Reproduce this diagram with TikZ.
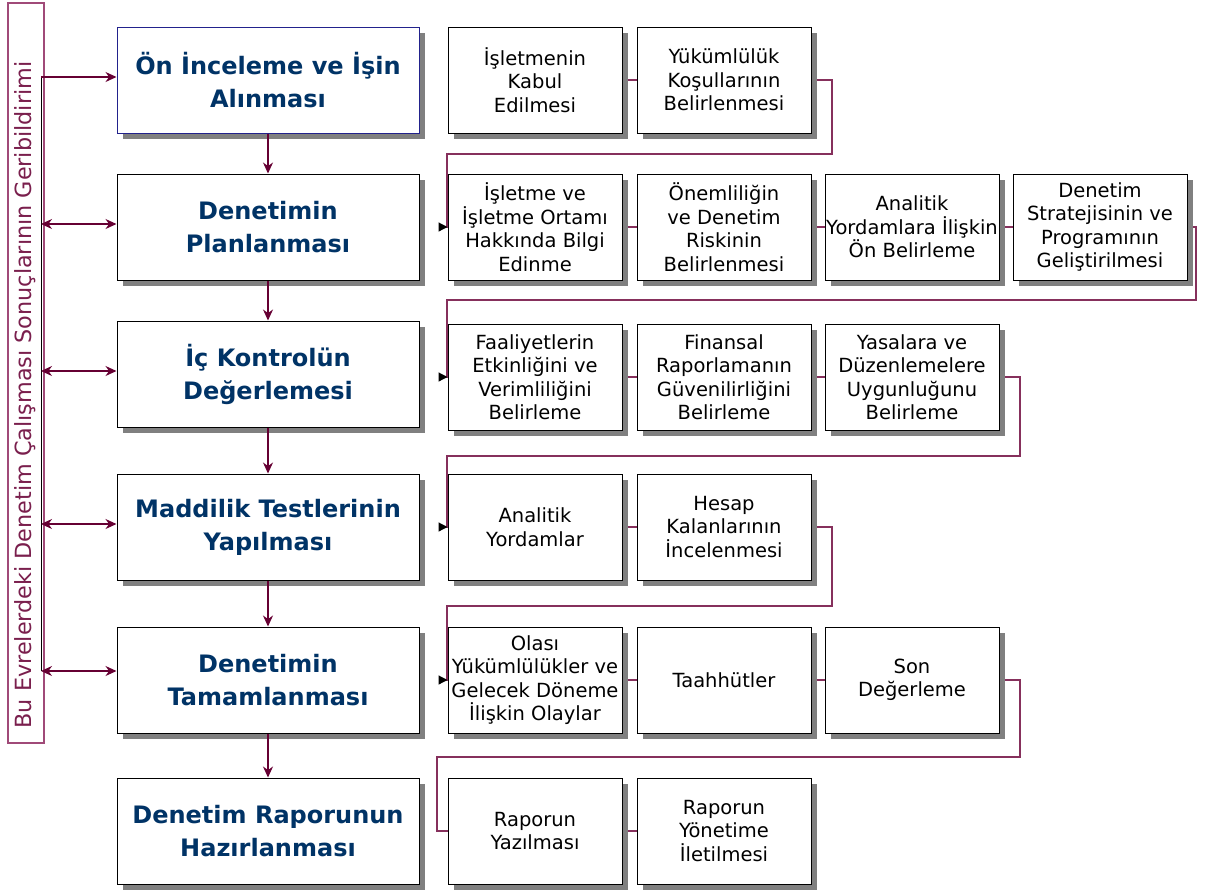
\documentclass[tikz,border=0pt]{standalone}
\usepackage{fontspec}
\setmainfont{DejaVu Sans}
\usetikzlibrary{shadows,arrows.meta,backgrounds}

\definecolor{navy}{HTML}{003366}
\definecolor{boxblue}{HTML}{22228C}
\definecolor{maroon}{HTML}{660033}
\definecolor{linkred}{HTML}{86305C}
\definecolor{barpink}{HTML}{A04A78}
\definecolor{bartext}{HTML}{7A1F4D}
\definecolor{shadowgray}{HTML}{808080}

\tikzset{
  box/.style={draw=black, line width=1pt, fill=white, align=center, inner sep=1pt,
    drop shadow={shadow xshift=6pt, shadow yshift=-6pt, fill=shadowgray, opacity=1}},
  mainbox/.style={box, minimum width=302, minimum height=106, text=navy,
    font=\bfseries\fontsize{24}{33}\selectfont},
  subbox/.style={box, minimum width=174, minimum height=106,
    font=\fontsize{19.5}{23.5}\selectfont},
  flow/.style={draw=maroon, line width=1.2pt, -{Stealth[length=11pt,width=10pt]}},
  both/.style={flow, {Stealth[length=11pt,width=10pt]}-{Stealth[length=11pt,width=10pt]}},
  link/.style={draw=linkred, line width=1.2pt},
  linkin/.style={link, -{Triangle[length=9pt,width=9pt,color=black]}},
}

\begin{document}
\begin{tikzpicture}[x=1pt, y=-1pt]
\useasboundingbox (0,0) rectangle (1210,892);

% feedback bar on the left
\node[draw=barpink, line width=1.1pt, minimum width=36, minimum height=740, inner sep=0pt] (fb) at (26,373) {};
\node[rotate=90, text=bartext, font=\fontsize{22.3}{26}\selectfont, inner sep=0pt] (fbt) at (25,395)
  {Bu Evrelerdeki Denetim Çalışması Sonuçlarının Geribildirimi};

% main phases
\node[mainbox, draw=boxblue] (m1) at (268,80)  {Ön İnceleme ve İşin\\Alınması};
\node[mainbox] (m2) at (268,227) {Denetimin\\Planlanması};
\node[mainbox] (m3) at (268,374) {İç Kontrolün\\Değerlemesi};
\node[mainbox] (m4) at (268,527) {Maddilik Testlerinin\\Yapılması};
\node[mainbox] (m5) at (268,680) {Denetimin\\Tamamlanması};
\node[mainbox] (m6) at (268,831) {Denetim Raporunun\\Hazırlanması};

% steps of each phase
\node[subbox] (s11) at (535,80) {İşletmenin\\Kabul\\Edilmesi};
\node[subbox] (s12) at (724,80) {Yükümlülük\\Koşullarının\\Belirlenmesi};

\node[subbox] (s21) at (535,227) {İşletme ve\\İşletme Ortamı\\Hakkında Bilgi\\Edinme};
\node[subbox] (s22) at (724,227) {Önemliliğin\\ve Denetim\\Riskinin\\Belirlenmesi};
\node[subbox] (s23) at (912,227) {Analitik\\Yordamlara İlişkin\\Ön Belirleme};
\node[subbox] (s24) at (1100,227) {Denetim\\Stratejisinin ve\\Programının\\Geliştirilmesi};

\node[subbox] (s31) at (535,377) {Faaliyetlerin\\Etkinliğini ve\\Verimliliğini\\Belirleme};
\node[subbox] (s32) at (724,377) {Finansal\\Raporlamanın\\Güvenilirliğini\\Belirleme};
\node[subbox] (s33) at (912,377) {Yasalara ve\\Düzenlemelere\\Uygunluğunu\\Belirleme};

\node[subbox] (s41) at (535,527) {Analitik\\Yordamlar};
\node[subbox] (s42) at (724,527) {Hesap\\Kalanlarının\\İncelenmesi};

\node[subbox] (s51) at (535,680) {Olası\\Yükümlülükler ve\\Gelecek Döneme\\İlişkin Olaylar};
\node[subbox] (s52) at (724,680) {Taahhütler};
\node[subbox] (s53) at (912,680) {Son\\Değerleme};

\node[subbox] (s61) at (535,831) {Raporun\\Yazılması};
\node[subbox] (s62) at (724,831) {Raporun\\Yönetime\\İletilmesi};

% phase sequence
\draw[flow] (m1) -- (m2);
\draw[flow] (m2) -- (m3);
\draw[flow] (m3) -- (m4);
\draw[flow] (m4) -- (m5);
\draw[flow] (m5) -- (m6);

% feedback connections
\coordinate (f1) at (41,77);
\coordinate (f2) at (41,224);
\coordinate (f3) at (41,371);
\coordinate (f4) at (41,524);
\coordinate (f5) at (41,671);
\draw[black, line width=1pt] (f1) -- (f5);
\draw[flow] (f1) -- (f1 -| m1.west);
\draw[both] (f2) -- (f2 -| m2.west);
\draw[both] (f3) -- (f3 -| m3.west);
\draw[both] (f4) -- (f4 -| m4.west);
\draw[both] (f5) -- (f5 -| m5.west);

% step chains, running behind the boxes
\coordinate (k1a) at (832,154);  \coordinate (k1b) at (447,154);
\coordinate (k2a) at (1196,300); \coordinate (k2b) at (447,300);
\coordinate (k3a) at (1020,456); \coordinate (k3b) at (447,456);
\coordinate (k4a) at (832,606);  \coordinate (k4b) at (447,606);
\coordinate (k5a) at (1020,757); \coordinate (k5b) at (437,757);
\begin{scope}[on background layer]
  \draw[link] (s11) -- (s12);
  \draw[link] (s21) -- (s22) -- (s23) -- (s24);
  \draw[link] (s31) -- (s32) -- (s33);
  \draw[link] (s41) -- (s42);
  \draw[link] (s51) -- (s52) -- (s53);
  \draw[link] (s61) -- (s62);
  \draw[linkin] (s12.east) -| (k1a) -- (k1b) |- (s21.west);
  \draw[linkin] (s24.east) -| (k2a) -- (k2b) |- (s31.west);
  \draw[linkin] (s33.east) -| (k3a) -- (k3b) |- (s41.west);
  \draw[linkin] (s42.east) -| (k4a) -- (k4b) |- (s51.west);
  \draw[link]   (s53.east) -| (k5a) -- (k5b) |- (s61.west);
\end{scope}
\end{tikzpicture}
\end{document}
